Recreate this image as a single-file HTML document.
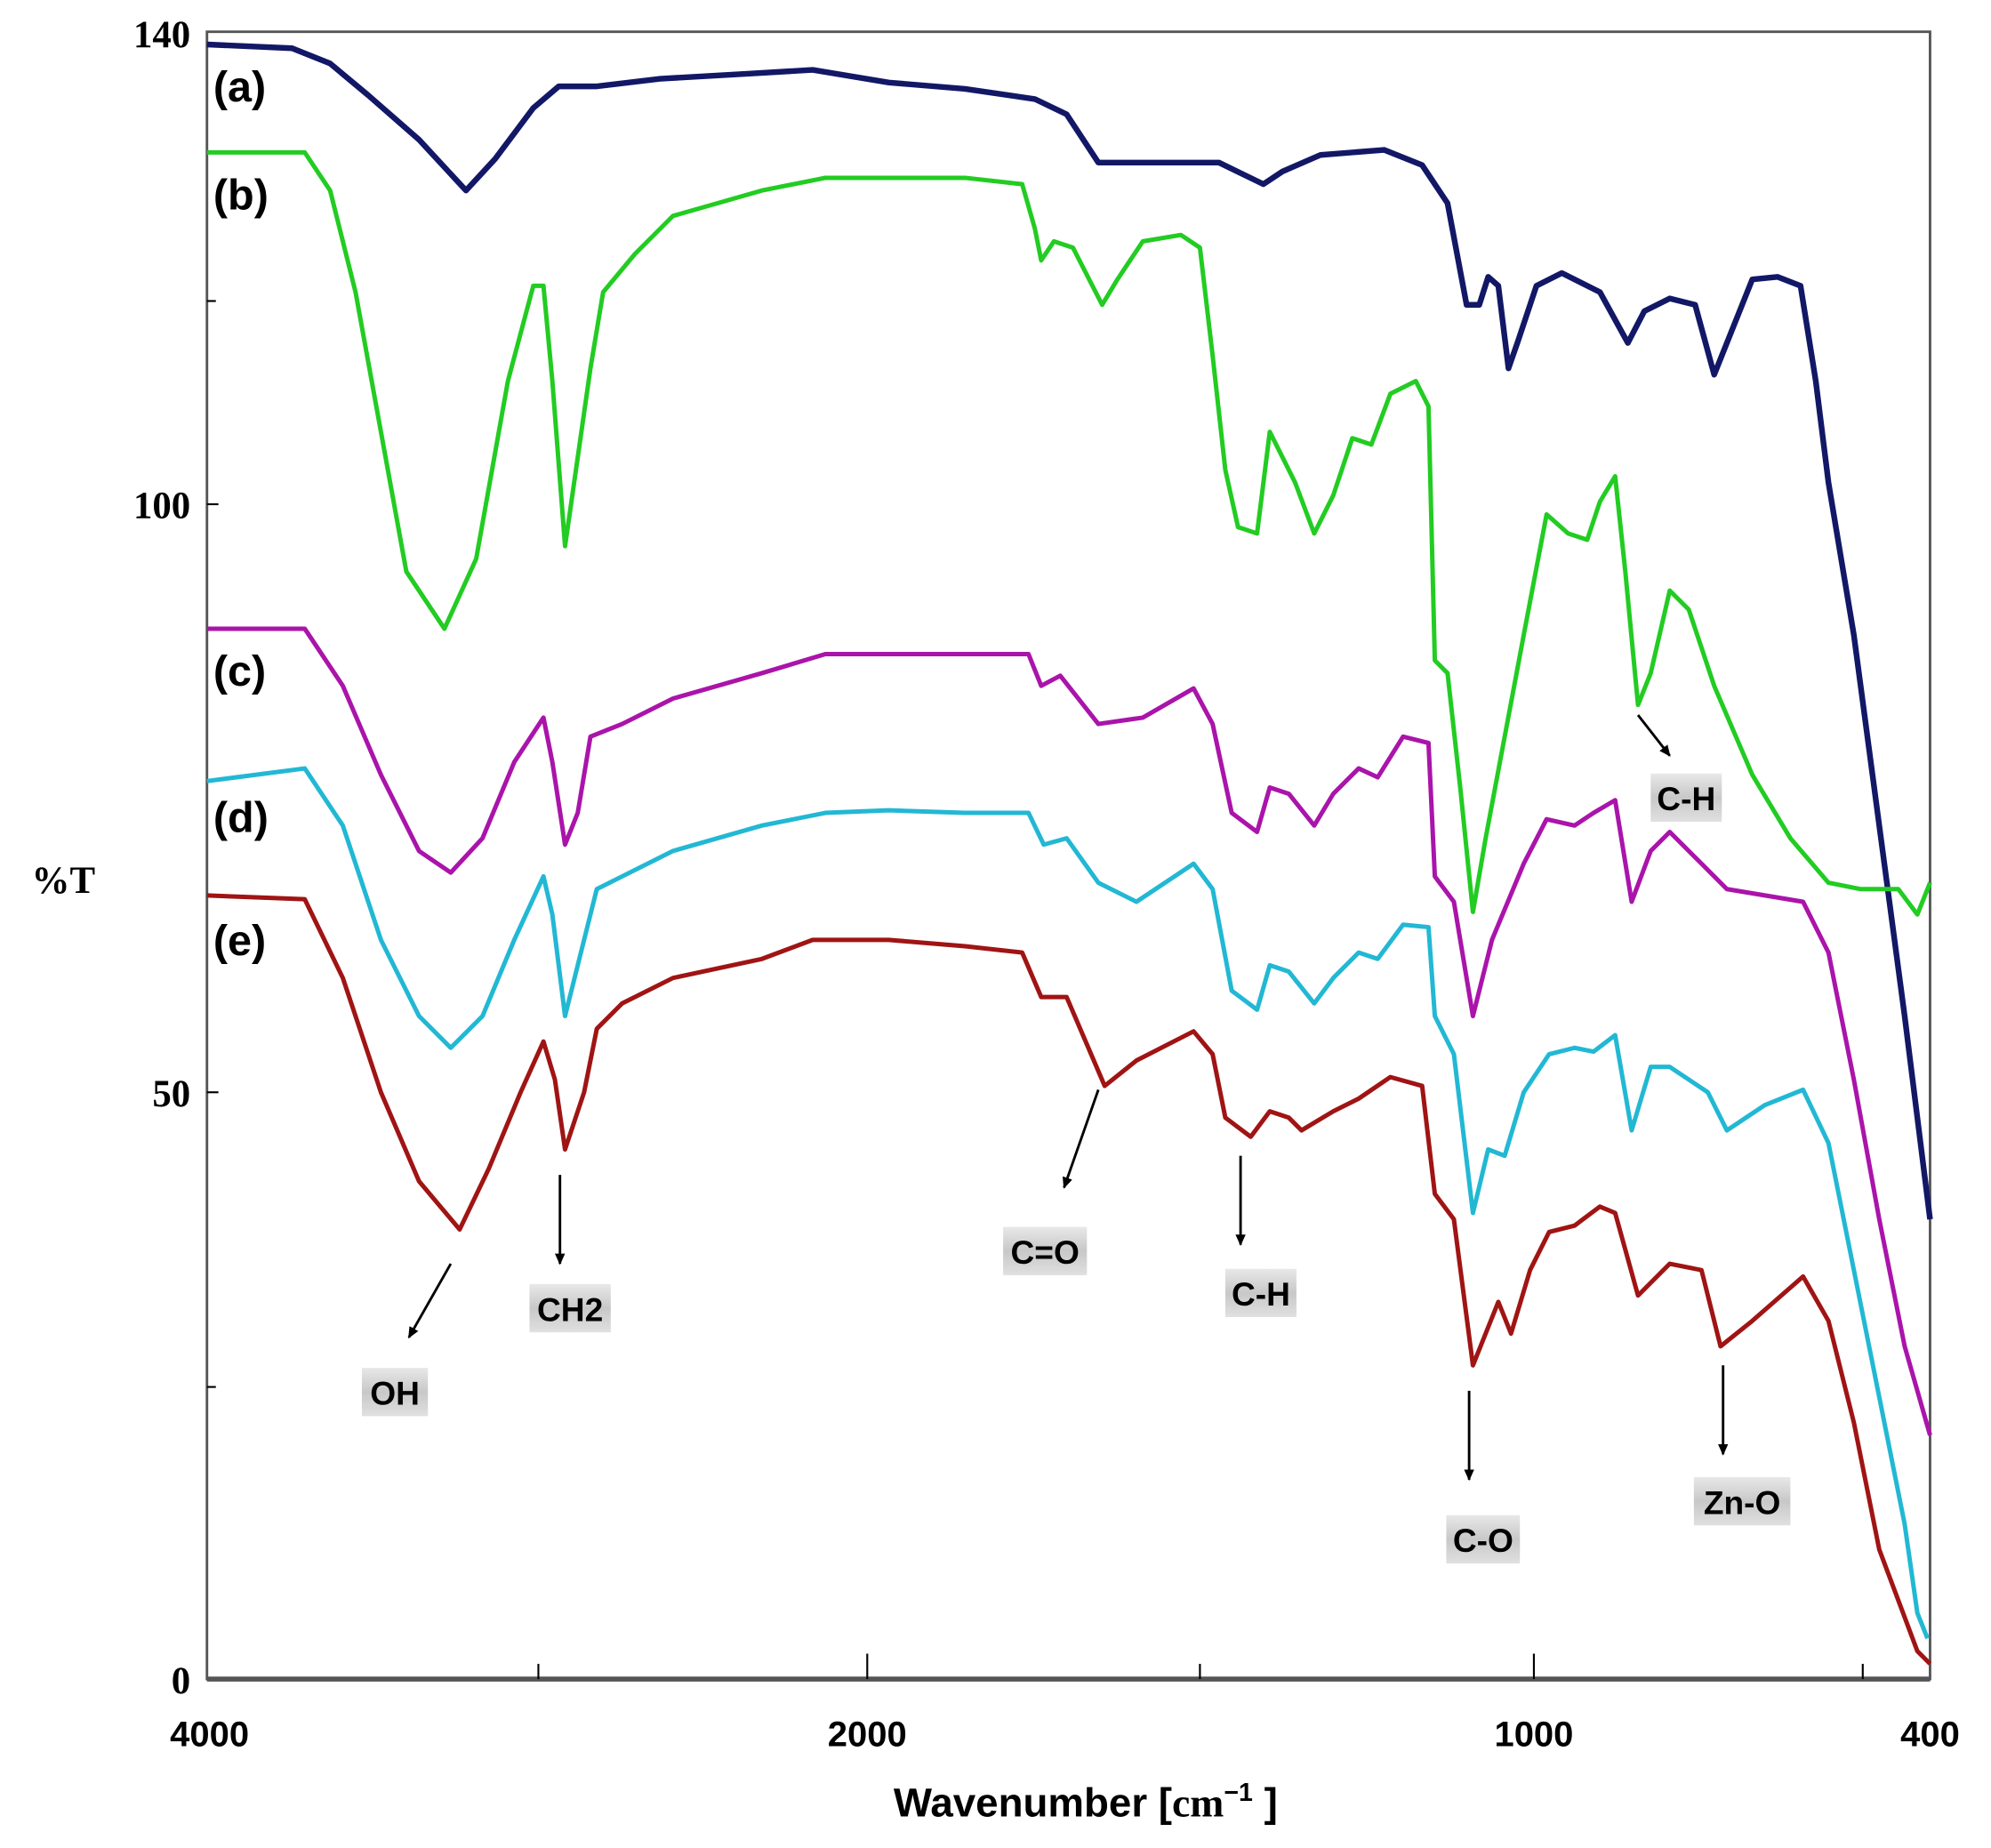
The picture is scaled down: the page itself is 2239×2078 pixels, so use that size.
<!DOCTYPE html>
<html><head><meta charset="utf-8"><style>html,body{margin:0;padding:0;background:#fff}svg{display:block}</style></head>
<body>
<svg width="2239" height="2078" viewBox="0 0 1568 1455" preserveAspectRatio="none" xmlns="http://www.w3.org/2000/svg">
<defs><linearGradient id="g" x1="0" y1="0" x2="0" y2="1"><stop offset="0" stop-color="#e8e8e8"/><stop offset="0.5" stop-color="#c8c8c8"/><stop offset="1" stop-color="#e0e0e0"/></linearGradient>
<marker id="ar" markerWidth="10" markerHeight="10" refX="8" refY="5" orient="auto" markerUnits="userSpaceOnUse"><path d="M0,1 L9,5 L0,9 z" fill="#000"/></marker></defs>
<rect x="163" y="25" width="1357" height="1297" fill="none" stroke="#555" stroke-width="2"/>
<line x1="163" y1="1322" x2="1520" y2="1322" stroke="#555" stroke-width="4"/>
<g stroke="#000" stroke-width="1.5">
<line x1="424" y1="1322" x2="424" y2="1310"/><line x1="683" y1="1322" x2="683" y2="1302"/><line x1="945" y1="1322" x2="945" y2="1310"/><line x1="1208" y1="1322" x2="1208" y2="1302"/><line x1="1467" y1="1322" x2="1467" y2="1310"/>
<line x1="163" y1="237" x2="170" y2="237"/><line x1="163" y1="397" x2="172" y2="397"/><line x1="163" y1="860" x2="172" y2="860"/><line x1="163" y1="1092" x2="170" y2="1092"/>
</g>
<g font-family="Liberation Serif, serif" font-weight="bold" font-size="30" text-anchor="end">
<text x="150" y="37">140</text><text x="150" y="408">100</text><text x="150" y="871">50</text><text x="150" y="1333">0</text>
<text x="75" y="703">%T</text></g>
<g font-family="Liberation Sans, sans-serif" font-weight="bold" font-size="28" text-anchor="middle">
<text x="165" y="1375">4000</text><text x="683" y="1375">2000</text><text x="1208" y="1375">1000</text><text x="1520" y="1375">400</text>
<text x="855" y="1430" font-size="32">Wavenumber [<tspan font-family="Liberation Serif, serif">cm</tspan><tspan font-size="20" dy="-12">−1</tspan><tspan dy="12"> ]</tspan></text></g>
<g fill="none" stroke-width="3.5" stroke-linejoin="round">
<polyline stroke="#121866" stroke-width="4.5" points="163,35 230,38 260,50 290,75 330,110 367,150 390,125 420,85 440,68 470,68 520,62 590,58 640,55 700,65 760,70 815,78 840,90 865,128 900,128 960,128 995,145 1010,135 1040,122 1090,118 1120,130 1140,160 1155,240 1165,240 1172,218 1180,225 1188,290 1195,270 1210,225 1230,215 1260,230 1282,270 1295,245 1315,235 1335,240 1350,295 1362,265 1380,220 1400,218 1418,225 1430,300 1440,380 1460,500 1480,650 1500,800 1515,920 1520,960"/>
<polyline stroke="#22cc22" points="163,120 240,120 260,150 280,230 300,340 320,450 350,495 375,440 400,300 420,225 428,225 435,300 445,430 455,360 465,290 475,230 500,200 530,170 600,150 650,140 700,140 760,140 805,145 815,180 820,205 830,190 845,195 868,240 880,220 900,190 930,185 945,195 955,280 965,370 975,415 990,420 1000,340 1010,360 1020,380 1035,420 1050,390 1065,345 1080,350 1095,310 1115,300 1125,320 1130,520 1140,530 1150,620 1160,718 1170,660 1185,580 1200,500 1218,405 1235,420 1250,425 1260,395 1272,375 1280,450 1290,555 1300,530 1315,465 1330,480 1350,540 1380,610 1410,660 1440,695 1465,700 1480,700 1495,700 1510,720 1520,695"/>
<polyline stroke="#aa14aa" points="163,495 240,495 270,540 300,610 330,670 355,687 380,660 405,600 428,565 435,600 445,665 455,640 465,580 490,570 530,550 600,530 650,515 700,515 760,515 810,515 820,540 835,532 865,570 900,565 940,542 955,570 970,640 990,655 1000,620 1015,625 1035,650 1050,625 1070,605 1085,612 1105,580 1125,585 1130,690 1145,710 1160,800 1175,740 1200,680 1218,645 1240,650 1255,640 1272,630 1285,710 1300,670 1315,655 1340,680 1360,700 1390,705 1420,710 1440,750 1460,850 1480,960 1500,1060 1520,1130"/>
<polyline stroke="#22b8d4" points="163,615 240,605 270,650 300,740 330,800 355,825 380,800 405,740 428,690 435,720 445,800 455,760 470,700 490,690 530,670 600,650 650,640 700,638 760,640 810,640 822,665 840,660 865,695 895,710 940,680 955,700 970,780 990,795 1000,760 1015,765 1035,790 1050,770 1070,750 1085,755 1105,728 1125,730 1130,800 1145,830 1160,955 1172,905 1185,910 1200,860 1220,830 1240,825 1255,828 1272,815 1285,890 1300,840 1315,840 1345,860 1360,890 1390,870 1420,858 1440,900 1460,1000 1480,1100 1500,1200 1510,1270 1518,1290"/>
<polyline stroke="#a01414" points="163,705 240,708 270,770 300,860 330,930 362,968 385,920 410,860 428,820 437,850 445,905 460,860 470,810 490,790 530,770 600,755 640,740 700,740 760,745 805,750 820,785 840,785 870,855 895,835 940,812 955,830 965,880 985,895 1000,875 1015,880 1025,890 1050,875 1070,865 1095,848 1120,855 1130,940 1145,960 1160,1075 1180,1025 1190,1050 1205,1000 1220,970 1240,965 1260,950 1272,955 1290,1020 1315,995 1340,1000 1355,1060 1380,1040 1420,1005 1440,1040 1460,1120 1480,1220 1495,1260 1510,1300 1520,1310"/>
</g>
<g font-family="Liberation Sans, sans-serif" font-weight="bold" font-size="34">
<text x="168" y="80">(a)</text><text x="168" y="165">(b)</text><text x="168" y="540">(c)</text><text x="168" y="655">(d)</text><text x="168" y="752">(e)</text></g>
<g stroke="#000" stroke-width="2" marker-end="url(#ar)">
<line x1="355" y1="995" x2="322" y2="1053"/><line x1="441" y1="925" x2="441" y2="995"/><line x1="865" y1="858" x2="838" y2="935"/><line x1="977" y1="910" x2="977" y2="980"/><line x1="1157" y1="1095" x2="1157" y2="1165"/><line x1="1357" y1="1075" x2="1357" y2="1145"/><line x1="1290" y1="563" x2="1315" y2="595"/></g>
<g font-family="Liberation Sans, sans-serif" font-weight="bold" font-size="26" text-anchor="middle">
<rect x="285" y="1077" width="52" height="38" fill="url(#g)"/><text x="311" y="1106">OH</text>
<rect x="417" y="1011" width="64" height="38" fill="url(#g)"/><text x="449" y="1040">CH2</text>
<rect x="790" y="966" width="66" height="38" fill="url(#g)"/><text x="823" y="995">C=O</text>
<rect x="965" y="999" width="56" height="38" fill="url(#g)"/><text x="993" y="1028">C-H</text>
<rect x="1139" y="1193" width="58" height="38" fill="url(#g)"/><text x="1168" y="1222">C-O</text>
<rect x="1334" y="1163" width="76" height="38" fill="url(#g)"/><text x="1372" y="1192">Zn-O</text>
<rect x="1300" y="609" width="56" height="38" fill="url(#g)"/><text x="1328" y="638">C-H</text></g>
</svg>
</body></html>
